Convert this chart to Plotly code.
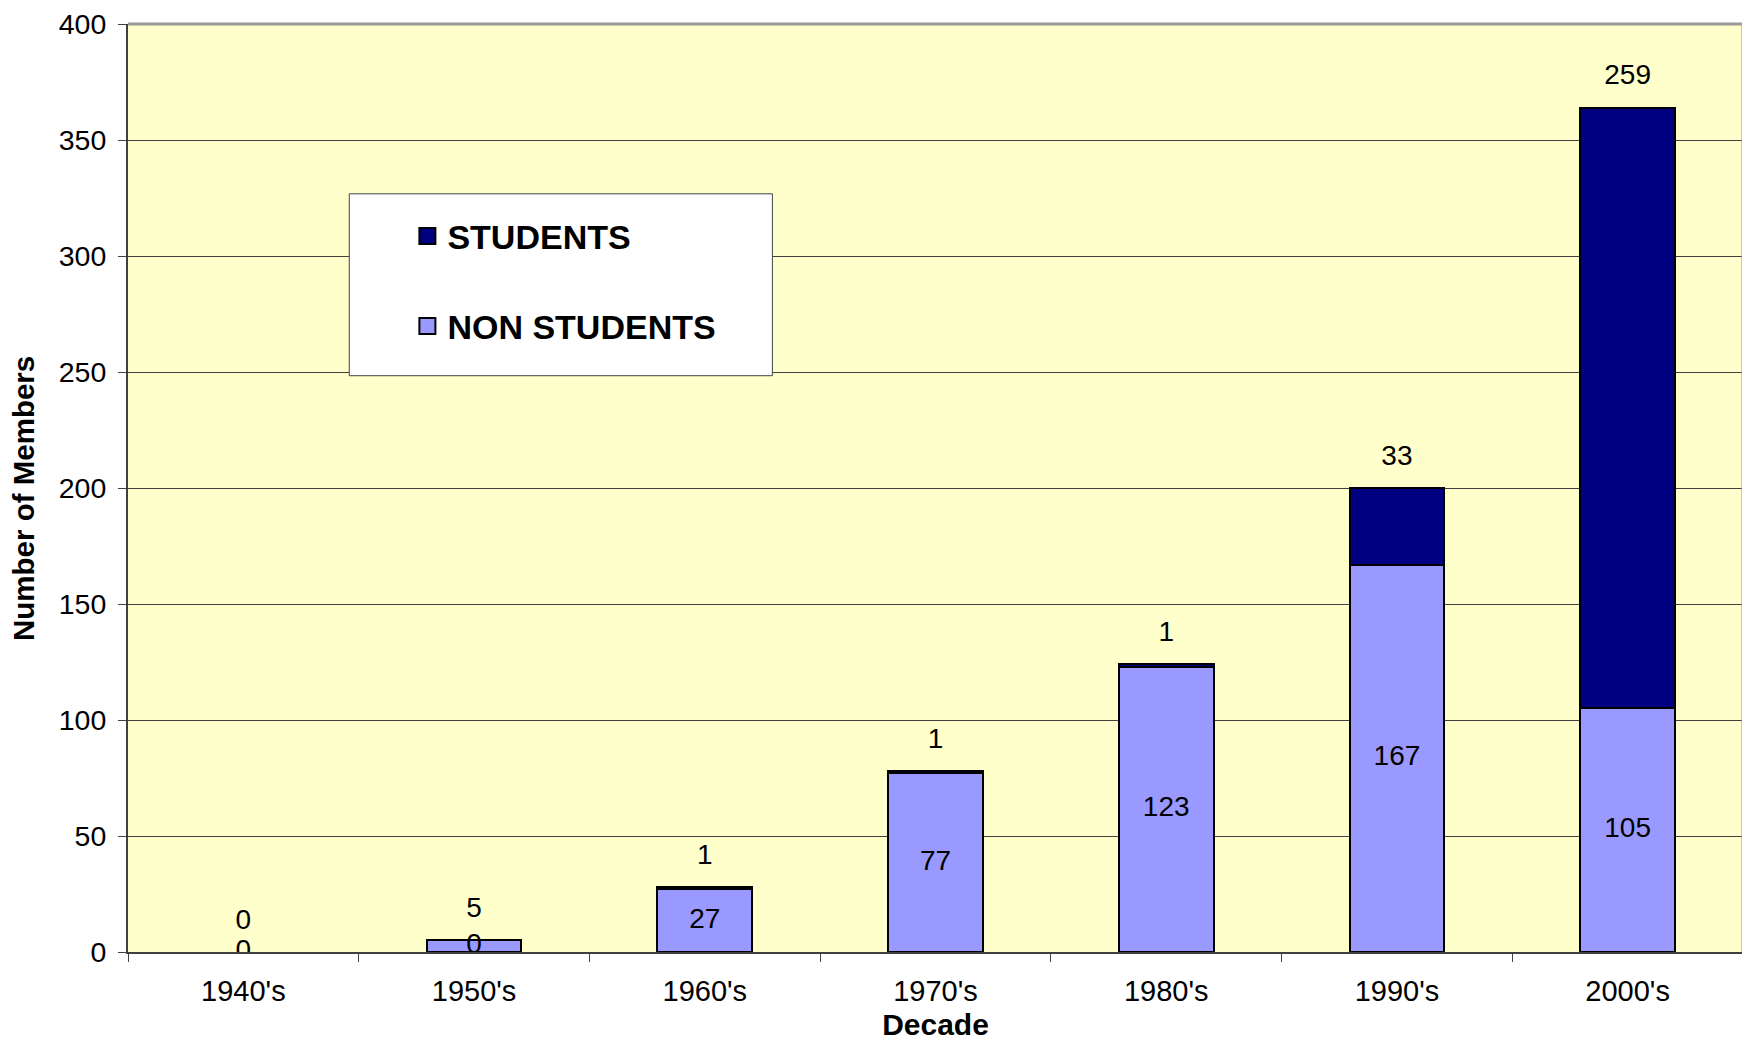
import plotly.graph_objects as go

decades = ["1940's", "1950's", "1960's", "1970's", "1980's", "1990's", "2000's"]
non_students = [0, 5, 27, 77, 123, 167, 105]
students = [0, 0, 1, 1, 1, 33, 259]
non_student_labels = ["0", "0", "27", "77", "123", "167", "105"]
student_labels = ["0", "5", "1", "1", "1", "33", "259"]

FONT = "Liberation Sans, Arial, sans-serif"
NON_COLOR = "#9999FF"
STU_COLOR = "#000080"
label_offset = 13

totals = [a + b for a, b in zip(non_students, students)]

def outline(vals):
    # no outline drawn for empty segments
    return [0 if v == 0 else 2 for v in vals]

fig = go.Figure()
fig.add_trace(go.Bar(x=decades, y=non_students, name="NON STUDENTS", showlegend=False,
                     marker=dict(color=NON_COLOR, line=dict(color="black", width=outline(non_students)))))
fig.add_trace(go.Bar(x=decades, y=students, name="STUDENTS", showlegend=False,
                     marker=dict(color=STU_COLOR, line=dict(color="black", width=outline(students)))))

# data labels
fig.add_trace(go.Scatter(x=decades, y=[v / 2 for v in non_students], mode="text",
                         text=non_student_labels, showlegend=False, hoverinfo="skip",
                         textfont=dict(family=FONT, size=28, color="black")))
fig.add_trace(go.Scatter(x=decades, y=[t + label_offset for t in totals], mode="text",
                         text=student_labels, showlegend=False, hoverinfo="skip",
                         textfont=dict(family=FONT, size=28, color="black")))

# legend entries with bigger square swatches
for name, color, rank in [("STUDENTS", STU_COLOR, 1), ("NON STUDENTS", NON_COLOR, 2)]:
    fig.add_trace(go.Scatter(x=[None], y=[None], mode="markers", name=name, legendgroup=name,
                             legendrank=rank,
                             marker=dict(symbol="square", size=16, color=color,
                                         line=dict(color="black", width=2))))

# legend box
fig.add_shape(type="rect", xref="paper", yref="paper", x0=0.137, x1=0.399, y0=0.621, y1=0.817,
              fillcolor="white", line=dict(color="#404040", width=1), layer="above")

fig.update_layout(
    barmode="stack",
    bargap=0.59,
    width=1750, height=1043,
    margin=dict(l=120, r=15, t=16, b=99),
    plot_bgcolor="#FFFFCC",
    paper_bgcolor="white",
    font=dict(family=FONT, size=28, color="black"),
    legend=dict(x=0.173, y=0.8025, xanchor="left", yanchor="top", traceorder="grouped",
                bgcolor="rgba(0,0,0,0)", tracegroupgap=43,
                font=dict(family=FONT, size=34, color="black", weight="bold")),
    annotations=[dict(text="<b>Number of Members</b>", textangle=-90, xref="paper", yref="paper",
                      x=0, y=0.5, xanchor="center", yanchor="middle", xshift=-105, yshift=-11,
                      showarrow=False, font=dict(family=FONT, size=29.5, color="black"))],
)

fig.update_xaxes(tickson="boundaries", ticks="outside", ticklen=8, tickcolor="#404040",
                 showline=True, linecolor="#404040", linewidth=2, mirror=False,
                 tickfont=dict(size=29), ticklabelstandoff=12, automargin=False,
                 title=dict(text="<b>Decade</b>", font=dict(size=30), standoff=8))
fig.update_yaxes(range=[0, 400], dtick=50, ticks="outside", ticklen=8, tickcolor="#404040",
                 showline=True, linecolor="#404040", linewidth=2,
                 gridcolor="#404040", gridwidth=1, zeroline=False, automargin=False,
                 tickfont=dict(size=28.5), ticklabelstandoff=6, ticklabeloverflow="allow")

# grey frame on top and right
fig.add_shape(type="line", xref="paper", yref="paper", x0=0, x1=1, y0=1, y1=1,
              line=dict(color="#999999", width=3))
fig.add_shape(type="line", xref="paper", yref="paper", x0=1, x1=1, y0=0, y1=1,
              line=dict(color="#999999", width=3))

fig.write_html("out.html")
